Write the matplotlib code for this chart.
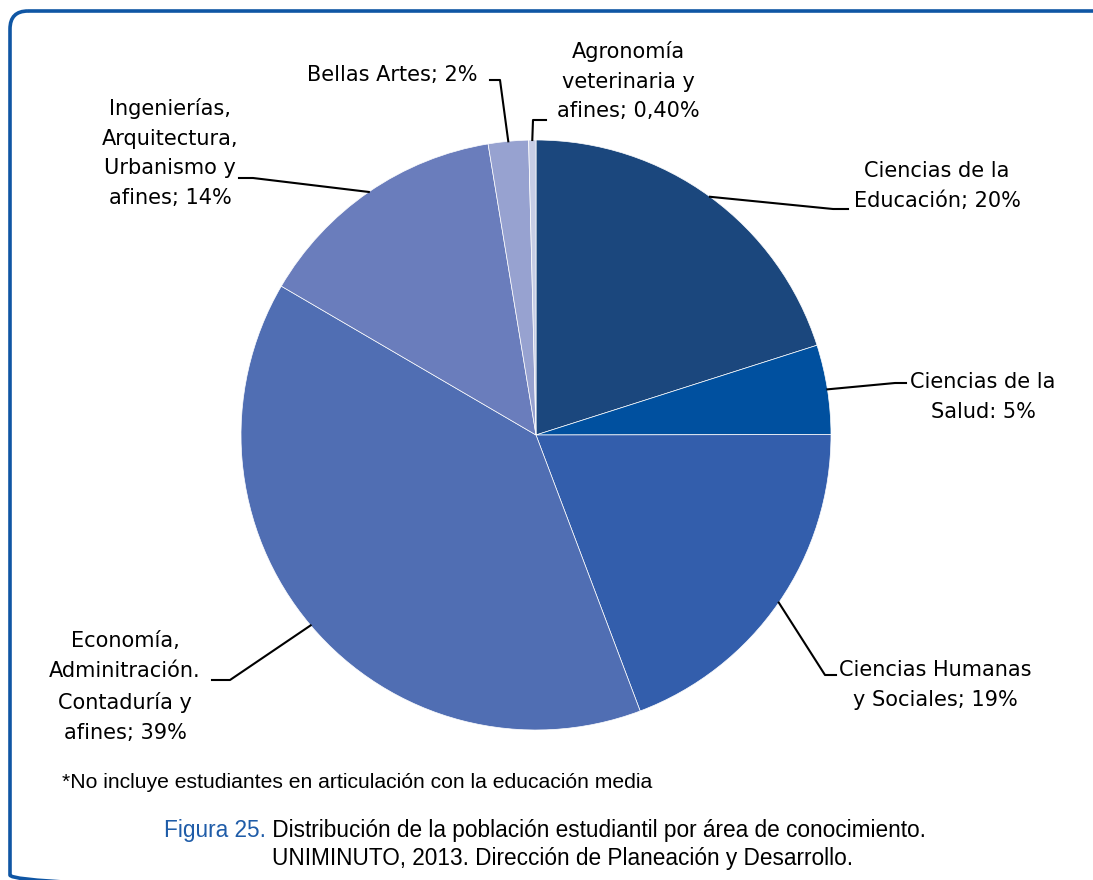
import numpy as np
import matplotlib.pyplot as plt
from matplotlib.patches import FancyBboxPatch

# data
areas = ["Ciencias de la\nEducación; 20%",
         "Ciencias de la\nSalud: 5%",
         "Ciencias Humanas\ny Sociales; 19%",
         "Economía,\nAdminitración.\nContaduría y\nafines; 39%",
         "Ingenierías,\nArquitectura,\nUrbanismo y\nafines; 14%",
         "Bellas Artes; 2%",
         "Agronomía\nveterinaria y\nafines; 0,40%"]
# slice sizes
shares = [20.1, 4.9, 19.3, 39.2, 14.0, 2.2, 0.4]
colors = ["#1B477D", "#00509F", "#335EAC", "#506EB3", "#6A7DBC", "#97A2D0", "#C6CDE6"]

note = "*No incluye estudiantes en articulación con la educación media"
fig_label = "Figura 25."
caption1 = " Distribución de la población estudiantil por área de conocimiento."
caption2 = "UNIMINUTO, 2013. Dirección de Planeación y Desarrollo."

W, H = 1093, 880
fig = plt.figure(figsize=(W / 100, H / 100), dpi=100)
ax = fig.add_axes([0, 0, 1, 1])

# frame (right and bottom edges run off the picture)
frame = FancyBboxPatch((10, 11), W + 40, H + 2, boxstyle="round,pad=0,rounding_size=18",
                       fc="none", ec="#0F56A4", lw=2.6, transform=ax.transData, clip_on=False)
ax.add_patch(frame)

# pie (y axis inverted, so counterclock=True draws clockwise on screen)
cx, cy, r = 536, 435, 295
wedges, _ = ax.pie(shares, colors=colors, startangle=-90, counterclock=True,
                   center=(cx, cy), radius=r, frame=True,
                   wedgeprops=dict(edgecolor="white", linewidth=0.5))
ax.set_xlim(0, W)
ax.set_ylim(H, 0)
ax.set_aspect("equal")
ax.axis("off")

# label placement: (text x, text y, elbow point, horizontal end)
lab_pos = [
    (937, 186, (833, 209), (848, 209)),
    (983, 397, (895, 383), (906, 383)),
    (935, 685, (825, 675), (836, 675)),
    (125, 687, (230, 680), (212, 680)),
    (170, 153, (253, 178), (239, 178)),
    (392, 75, (500, 80), (490, 80)),
    (628, 81, (533, 120), (546, 120)),
]

for w, txt, (tx, ty, elbow, hend) in zip(wedges, areas, lab_pos):
    ang = np.deg2rad((w.theta1 + w.theta2) / 2)
    px = cx + r * np.cos(ang)
    py = cy + r * np.sin(ang)
    ax.plot([px, elbow[0], hend[0]], [py, elbow[1], hend[1]], color="black", lw=1.5)
    ax.text(tx, ty, txt, ha="center", va="center", fontsize=15, linespacing=1.62,
            color="black", family="DejaVu Sans")

cap_font = ["Liberation Sans", "DejaVu Sans"]
ax.text(62, 782, note, ha="left", va="center", fontsize=15.2, color="black",
        family=cap_font)

t1 = ax.text(0, 831, fig_label, ha="left", va="center", fontsize=16.3, color="#1F5CA8",
             family=cap_font)
t2 = ax.annotate(caption1, xy=(1, 0.5), xycoords=t1, ha="left", va="center",
                 fontsize=16.3, color="black", family=cap_font)
fig.canvas.draw()
rend = fig.canvas.get_renderer()
e1 = t1.get_window_extent(rend)
e2 = t2.get_window_extent(rend)
total = e2.x1 - e1.x0
t1.set_x(545 - total / 2)
ax.text(563, 859, caption2, ha="center", va="center", fontsize=16.3, color="black",
        family=cap_font)

fig.savefig("out.png", dpi=100)
